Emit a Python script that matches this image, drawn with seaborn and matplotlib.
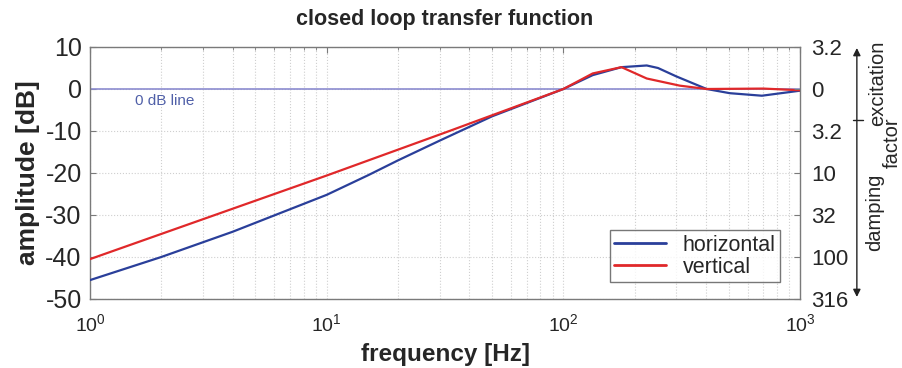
import matplotlib
matplotlib.use("Agg")
import matplotlib.pyplot as plt
import seaborn as sns
import pandas as pd
from matplotlib.lines import Line2D

# ---- data ----
freq_h = [1, 2, 4, 10, 15, 20, 30, 50, 100, 133, 176, 225, 251, 300, 403, 505, 690, 1000]
amp_h = [-45.5, -40.0, -34.0, -25.2, -20.5, -17.0, -12.3, -6.5, 0.0, 3.3, 5.2, 5.6, 5.0, 3.0, 0.0, -1.0, -1.6, -0.4]
freq_v = [1, 10, 33, 100, 133, 176, 225, 310, 403, 700, 1000]
amp_v = [-40.5, -20.6, -10.0, 0.0, 3.7, 5.2, 2.5, 0.8, 0.0, 0.1, -0.3]
series_names = ["horizontal", "vertical"]
left_ticks = [10, 0, -10, -20, -30, -40, -50]
right_labels = ["3.2", "0", "3.2", "10", "32", "100", "316"]

df = pd.concat([
    pd.DataFrame({"frequency": freq_h, "amplitude": amp_h, "series": series_names[0]}),
    pd.DataFrame({"frequency": freq_v, "amplitude": amp_v, "series": series_names[1]}),
])

sns.set_style("white")
plt.rcParams["font.family"] = ["Liberation Sans", "DejaVu Sans"]

fig = plt.figure(figsize=(9.03, 3.68), dpi=100)
ax = fig.add_axes([0.0997, 0.1875, 0.7863, 0.6848])

ax.axhline(0, color="#8c8cd0", lw=1.2, zorder=1)
sns.lineplot(data=df, x="frequency", y="amplitude", hue="series",
             palette={"horizontal": "#2a3f9a", "vertical": "#e0282a"},
             estimator=None, sort=True, lw=1.6, ax=ax, zorder=3)
ax.set_xscale("log")
ax.set_xlim(1, 1000)
ax.set_ylim(-50, 10)
ax.set_yticks(left_ticks)
ax.set_yticklabels([str(t) for t in left_ticks])

ax.grid(which="both", axis="x", ls=":", color="#cfcfcf", lw=0.8)
ax.grid(which="major", axis="y", ls=":", color="#cfcfcf", lw=0.8)
for s in ax.spines.values():
    s.set_color("#7a7a7a")
    s.set_linewidth(1.0)
ax.tick_params(axis="y", which="both", direction="in", length=4, labelsize=18, pad=6, color="#7a7a7a")
ax.tick_params(axis="x", which="major", direction="in", length=4, labelsize=14, pad=10, color="#7a7a7a")
ax.tick_params(axis="x", which="minor", direction="in", length=2, color="#7a7a7a")
ax.tick_params(top=True, which="both")

ax.set_xlabel("frequency [Hz]", fontsize=17.5, fontweight="bold", labelpad=6)
ax.set_ylabel("amplitude [dB]", fontsize=19, fontweight="bold", labelpad=4)
ax.set_title("closed loop transfer function", fontsize=15.5, fontweight="bold", pad=16)

ax.text(2.07, -2.9, "0 dB line", color="#5060a8", fontsize=11, ha="center", va="center")

leg = ax.legend(loc="lower right", bbox_to_anchor=(0.972, 0.067), fontsize=15.5,
                frameon=True, fancybox=False, edgecolor="#555555", handlelength=2.4,
                borderpad=0.2, labelspacing=0.05, handletextpad=0.8, borderaxespad=0)
leg.get_frame().set_linewidth(1.0)
for h in leg.get_lines():
    h.set_linewidth(2.0)

# right axis (damping / excitation factor)
ax2 = ax.twinx()
ax2.set_ylim(-50, 10)
ax2.set_yticks(left_ticks)
ax2.set_yticklabels(right_labels)
ax2.tick_params(axis="y", direction="in", length=4, labelsize=16, pad=8, color="#7a7a7a")
for s in ax2.spines.values():
    s.set_visible(False)
ax2.grid(False)

# double-headed arrow with tick
ax.annotate("", xy=(1.080, 0.996), xytext=(1.080, 0.008), xycoords="axes fraction",
            textcoords="axes fraction",
            arrowprops=dict(arrowstyle="<|-|>", color="#222222", lw=1.0,
                            mutation_scale=11, shrinkA=0, shrinkB=0),
            annotation_clip=False)
ax.add_line(Line2D([1.0746, 1.0887], [0.710, 0.710], transform=ax.transAxes,
                   color="#222222", lw=1.0, clip_on=False))
ax.text(1.1099, 0.857, "excitation", transform=ax.transAxes, rotation=90,
        ha="center", va="center", fontsize=14.5)
ax.text(1.1056, 0.345, "damping", transform=ax.transAxes, rotation=90,
        ha="center", va="center", fontsize=14.5)
ax.text(1.1296, 0.619, "factor", transform=ax.transAxes, rotation=90,
        ha="center", va="center", fontsize=14.5)

fig.savefig("out.png", dpi=100)
